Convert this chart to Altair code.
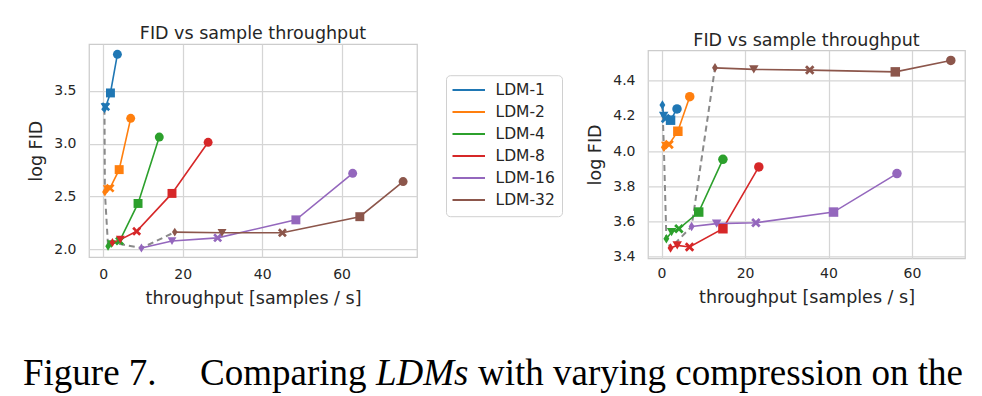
import altair as alt
import pandas as pd

models = ["LDM-1", "LDM-2", "LDM-4", "LDM-8", "LDM-16", "LDM-32"]
colors = ["#1f77b4", "#ff7f0e", "#2ca02c", "#d62728", "#9467bd", "#8c564b"]
markers = ["d", "v", "X", "s", "o"]
marker_shapes = [
    "M0,-1L0.62,0L0,1L-0.62,0Z",
    "triangle-down",
    "M0,-0.42L0.58,-1L1,-0.58L0.42,0L1,0.58L0.58,1L0,0.42L-0.58,1L-1,0.58L-0.42,0L-1,-0.58L-0.58,-1Z",
    "square",
    "circle",
]

# left panel: throughput and log FID per model, marker order d, v, X, s, o
left_tp = {
    "LDM-1": [0.3, 0.45, 0.6, 1.8, 3.55],
    "LDM-2": [0.4, 1.0, 1.7, 4.0, 6.9],
    "LDM-4": [1.2, 2.0, 4.1, 8.75, 14.1],
    "LDM-8": [2.3, 4.3, 8.4, 17.3, 26.4],
    "LDM-16": [9.6, 17.3, 28.8, 48.5, 62.8],
    "LDM-32": [18.0, 29.9, 45.1, 64.6, 75.5],
}
left_fid = {
    "LDM-1": [3.33, 3.345, 3.35, 3.48, 3.845],
    "LDM-2": [2.543, 2.57, 2.58, 2.755, 3.24],
    "LDM-4": [2.03, 2.05, 2.08, 2.435, 3.063],
    "LDM-8": [2.065, 2.093, 2.172, 2.53, 3.013],
    "LDM-16": [2.013, 2.08, 2.11, 2.28, 2.72],
    "LDM-32": [2.164, 2.158, 2.158, 2.31, 2.642],
}

# right panel
right_tp = {
    "LDM-1": [0.2, 0.5, 0.95, 2.15, 3.7],
    "LDM-2": [0.55, 1.0, 1.8, 3.9, 6.75],
    "LDM-4": [1.15, 2.4, 4.15, 8.9, 14.7],
    "LDM-8": [2.15, 3.75, 6.7, 14.7, 23.3],
    "LDM-16": [7.2, 13.2, 22.6, 41.2, 56.4],
    "LDM-32": [12.8, 22.1, 35.5, 56.0, 69.3],
}
right_fid = {
    "LDM-1": [4.262, 4.2, 4.186, 4.176, 4.24],
    "LDM-2": [4.022, 4.03, 4.038, 4.113, 4.31],
    "LDM-4": [3.501, 3.539, 3.558, 3.653, 3.953],
    "LDM-8": [3.448, 3.463, 3.454, 3.558, 3.910],
    "LDM-16": [3.571, 3.587, 3.592, 3.653, 3.872],
    "LDM-32": [4.474, 4.465, 4.461, 4.451, 4.516],
}

x_ticks = [0, 20, 40, 60]
left_y_ticks = [2.0, 2.5, 3.0, 3.5]
right_y_ticks = [3.4, 3.6, 3.8, 4.0, 4.2, 4.4]

caption_words = ["Figure 7.", "Comparing", "LDMs", "with varying compression on the"]
caption_italic = [False, False, True, False]
caption_pos = [22, 199, 375, 477]
CAPTION_ORIGIN = 88

TXT = "#262626"
FONT = "DejaVu Sans"


def panel(tp, fid, xdom, ydom, yticks, w, h, msize, title, legend, xlabpad, extend=None):
    rows = []
    for mi, m in enumerate(models):
        for si, mk in enumerate(markers):
            rows.append(dict(model=m, mi=mi, si=si, marker=mk, x=tp[m][si], y=fid[m][si]))
    df = pd.DataFrame(rows)
    X = alt.X("x:Q", scale=alt.Scale(domain=xdom, nice=False, zero=False),
              axis=alt.Axis(values=x_ticks, format="d", title="throughput [samples / s]",
                            labelPadding=xlabpad))
    Y = alt.Y("y:Q", scale=alt.Scale(domain=ydom, nice=False, zero=False),
              axis=alt.Axis(values=yticks, format=".1f", title="log FID"))
    cscale = alt.Scale(domain=models, range=colors)
    base = alt.Chart(df)
    dashed = base.transform_filter(alt.datum.si == 0).mark_line(
        color="#8a8a8a", strokeDash=[6, 4], strokeWidth=2
    ).encode(x=X, y=Y, order="mi:Q")
    lines = base.mark_line(strokeWidth=1.6).encode(
        x=X, y=Y, order="si:Q", color=alt.Color("model:N", scale=cscale, legend=legend)
    )
    points = base.mark_point(filled=True, opacity=1, size=msize).encode(
        x=X, y=Y,
        color=alt.Color("model:N", scale=cscale, legend=None),
        shape=alt.Shape("marker:N", scale=alt.Scale(domain=markers, range=marker_shapes), legend=None),
    )
    layers = [dashed, lines, points]
    if extend is not None:
        # invisible layout spacer (keeps the right panel slightly lower, as in the figure)
        layers.append(
            alt.Chart(pd.DataFrame({"k": [0]})).mark_rule(opacity=0).encode(
                x=alt.value(0), y=alt.value(0), y2=alt.value(extend)
            )
        )
    return alt.layer(*layers).properties(width=w, height=h, title=title)


leg = alt.Legend(
    title=None, orient="none", legendX=357, legendY=31,
    symbolType="M-2.5,0H2.5", symbolSize=169, symbolStrokeWidth=2, symbolOffset=8,
    labelOffset=19, padding=7, rowPadding=5, strokeColor="#d0d0d0", fillColor="white",
    cornerRadius=4, labelFontSize=15.5, labelColor=TXT, labelFont=FONT,
)

t1 = alt.TitleParams("FID vs sample throughput", fontSize=17.5, fontWeight="normal", font=FONT,
                     color=TXT, offset=2, anchor="middle")
t2 = alt.TitleParams("FID vs sample throughput", fontSize=17.5, fontWeight="normal", font=FONT,
                     color=TXT, offset=1, anchor="middle")

p1 = panel(left_tp, left_fid, [-3.6, 79.0], [1.927, 3.941], left_y_ticks, 328, 213, 80, t1, leg, 10, extend=268)
p2 = panel(right_tp, right_fid, [-3.25, 72.7], [3.389, 4.573], right_y_ticks, 317, 208, 90, t2, None, 8)

top = alt.hconcat(p1, p2, spacing=22, center=True).resolve_legend(color="independent")

cap = pd.DataFrame({"w": caption_words, "it": caption_italic,
                    "px": [p - CAPTION_ORIGIN for p in caption_pos]})
cbase = alt.Chart(cap)
cap_norm = cbase.transform_filter(alt.datum.it == False).mark_text(
    font="Liberation Serif", fontSize=37, color="black", align="left", baseline="alphabetic"
).encode(x=alt.X("px:Q", scale=None), y=alt.value(35), text="w:N")
cap_it = cbase.transform_filter(alt.datum.it == True).mark_text(
    font="Liberation Serif", fontSize=37, fontStyle="italic", color="black", align="left", baseline="alphabetic"
).encode(x=alt.X("px:Q", scale=None), y=alt.value(35), text="w:N")
caption = alt.layer(cap_norm, cap_it).properties(
    width=860, height=40, view=alt.ViewBackground(stroke="transparent")
)

chart = alt.vconcat(top, caption, spacing=36).properties(
    padding={"left": 14, "top": 16, "right": 0, "bottom": 0}
).configure(background="white").configure_view(
    stroke="#cccccc", strokeWidth=1.25
).configure_axis(
    grid=True, gridColor="#d5d5d5", gridWidth=1.25, domain=False, ticks=False,
    labelFont=FONT, labelFontSize=14, labelColor=TXT,
    titleFont=FONT, titleFontSize=17.5, titleFontWeight="normal", titleColor=TXT,
).configure_axisX(titlePadding=8).configure_axisY(labelPadding=13, titlePadding=8)

chart.save("out.html", embed_options={"renderer": "svg", "actions": False})
